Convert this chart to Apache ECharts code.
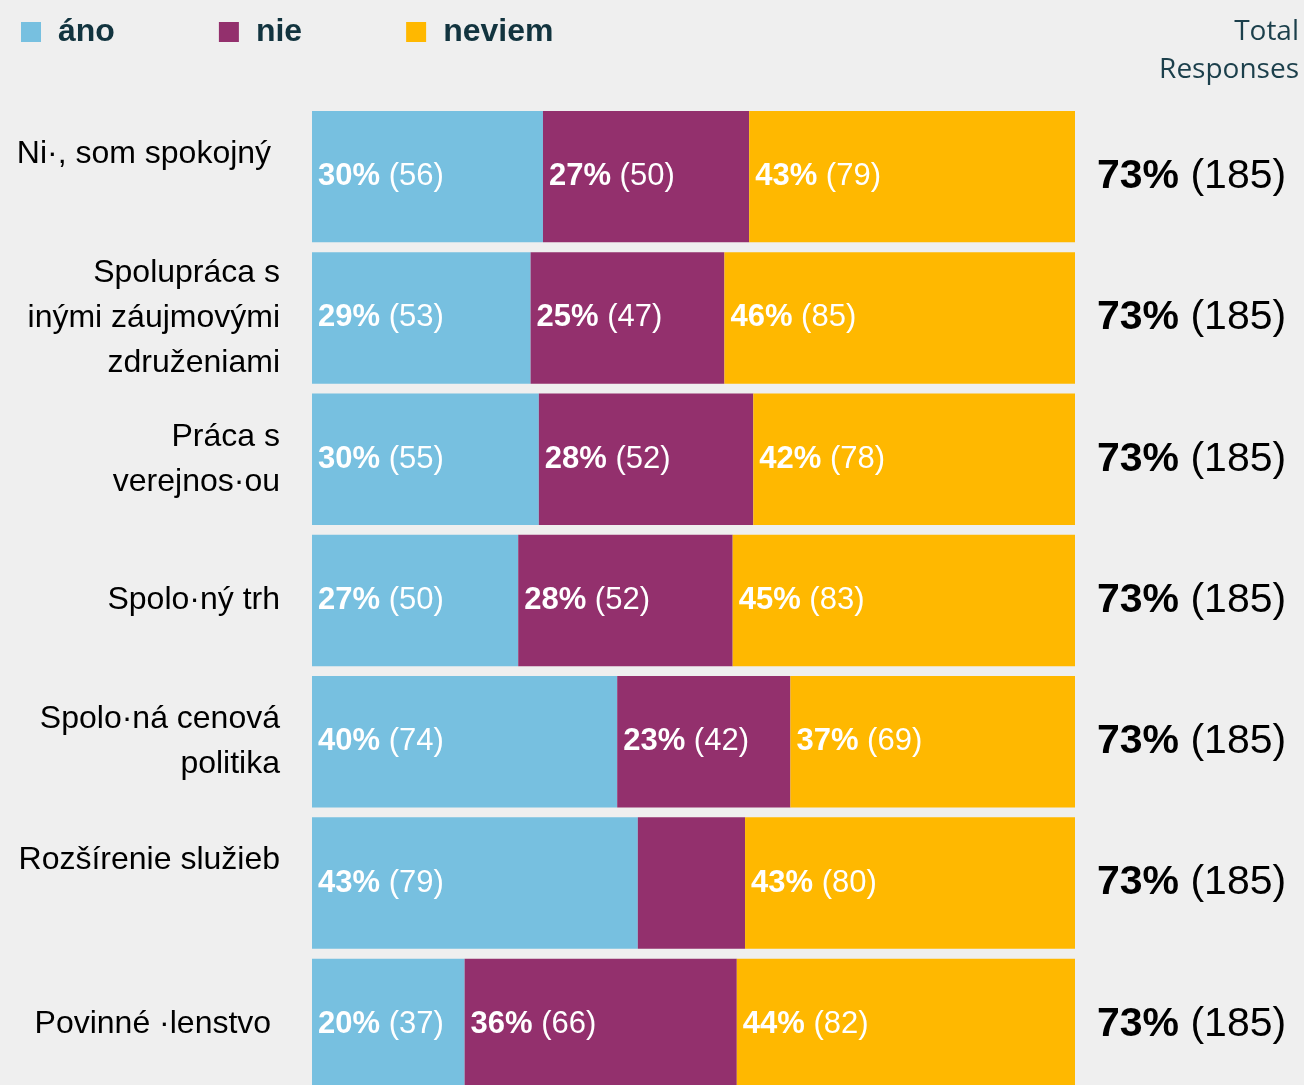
<!DOCTYPE html>
<html>
<head>
<meta charset="utf-8">
<script src="https://cdn.jsdelivr.net/npm/echarts@6/dist/echarts.min.js"></script>
<style>
  html, body { margin: 0; padding: 0; background: #efefef; overflow: hidden; }
  #chart { width: 1304px; height: 1100px; }
</style>
</head>
<body>
<div id="chart"></div>
<script>
// Survey question rows (top to bottom)
const categories = [
  'Ni·, som spokojný',
  'Spolupráca s\ninými záujmovými\nzdruženiami',
  'Práca s\nverejnos·ou',
  'Spolo·ný trh',
  'Spolo·ná cenová\npolitika',
  'Rozšírenie služieb',
  'Povinné ·lenstvo'
];

const answerNames = ['áno', 'nie', 'neviem'];

// Response counts per answer
const anoCounts    = [56, 53, 55, 50, 74, 79, 37];
const nieCounts    = [50, 47, 52, 52, 42, 26, 66];
const neviemCounts = [79, 85, 78, 83, 69, 80, 82];

// Total responses per row and share of all respondents
const totalCounts  = [185, 185, 185, 185, 185, 185, 185];
const totalPercent = [73, 73, 73, 73, 73, 73, 73];

const answerColors = ['#77c0e0', '#93306d', '#ffb800'];
const FONT = '"Liberation Sans", Arial, sans-serif';

const countsBySeries = [anoCounts, nieCounts, neviemCounts];

// Single-line rows whose label sits in the upper half of the bar
const raisedRows = new Set([0, 5]);
// Rows whose label keeps a trailing space before the bars
const spacedRows = new Set([0, 6]);

function share(count, i) {
  return count / totalCounts[i] * 100;
}

function categoryLabel(v, i) {
  let text = spacedRows.has(i) ? v + ' ' : v;
  if (raisedRows.has(i)) text += '\n ';
  return text;
}

const series = answerNames.map((name, s) => ({
  name: name,
  type: 'bar',
  stack: 'all',
  barCategoryGap: '7%',
  itemStyle: { color: answerColors[s] },
  data: countsBySeries[s].map((c, i) => {
    const v = share(c, i);
    // segments too narrow for their label stay unlabelled
    return v < 16 ? { value: v, label: { show: false } } : v;
  }),
  label: {
    show: true,
    position: 'insideLeft',
    distance: 6,
    formatter: p => `{b|${Math.round(p.value)}% }{n|(${countsBySeries[s][p.dataIndex]})}`,
    rich: {
      b: { fontFamily: FONT, fontSize: 31, fontWeight: 'bold', color: '#ffffff' },
      n: { fontFamily: FONT, fontSize: 31, color: '#ffffff' }
    }
  }
}));

const chart = echarts.init(document.getElementById('chart'));
chart.setOption({
  backgroundColor: '#efefef',
  animation: false,
  title: {
    text: 'Total\nResponses',
    left: 1299,
    top: 13,
    padding: 0,
    textAlign: 'right',
    textStyle: {
      fontFamily: '"Open Sans", "Noto Sans", sans-serif',
      fontSize: 28,
      fontWeight: 'normal',
      lineHeight: 38,
      color: '#1b3f4b'
    }
  },
  legend: {
    left: 21,
    top: 16,
    padding: 0,
    icon: 'rect',
    itemWidth: 20,
    itemHeight: 20,
    itemGap: 104,
    selectedMode: false,
    data: answerNames,
    textStyle: {
      fontFamily: FONT,
      fontSize: 32,
      fontWeight: 'bold',
      color: '#12343f',
      padding: [0, 0, 0, 12]
    }
  },
  grid: { left: 312, top: 106, width: 763, height: 989 },
  xAxis: { type: 'value', min: 0, max: 100, show: false },
  yAxis: [
    {
      type: 'category',
      data: categories,
      inverse: true,
      axisLine: { show: false },
      axisTick: { show: false },
      splitLine: { show: false },
      axisLabel: {
        margin: 32,
        padding: [6, 0, 0, 0],
        fontFamily: FONT,
        fontSize: 32,
        lineHeight: 45,
        color: '#000000',
        align: 'right',
        formatter: categoryLabel
      }
    },
    {
      type: 'category',
      data: categories,
      inverse: true,
      position: 'right',
      axisLine: { show: false },
      axisTick: { show: false },
      splitLine: { show: false },
      axisLabel: {
        margin: 22,
        align: 'left',
        formatter: (v, i) => `{b|${totalPercent[i]}% }{n|(${totalCounts[i]})}`,
        rich: {
          b: { fontFamily: FONT, fontSize: 41, fontWeight: 'bold', color: '#000000' },
          n: { fontFamily: FONT, fontSize: 41, color: '#000000' }
        }
      }
    }
  ],
  series: series
});
</script>
</body>
</html>
